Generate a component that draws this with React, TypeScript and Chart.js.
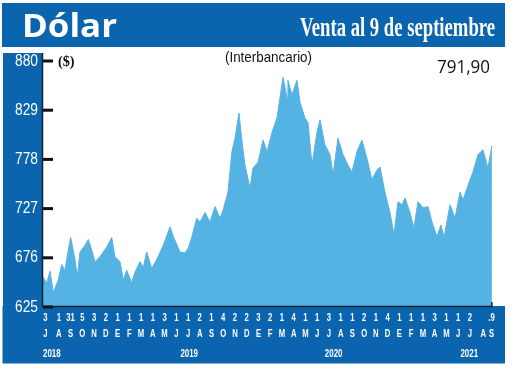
import React, { useEffect, useRef } from "react";
import { Chart, registerables } from "chart.js";

Chart.register(...registerables);

// Position in months since the start of July 2018
const mes = [
  0, 0.32, 0.6, 0.88, 1.3, 1.59, 1.87, 2.15, 2.36, 2.73, 2.92, 3.15, 3.58, 3.86, 4.15, 4.43, 4.85,
  5.42, 5.85, 6.13, 6.56, 6.84, 7.13, 7.55, 7.83, 8.26, 8.54, 8.83, 9.26, 9.68, 10.24, 10.82, 11.1,
  11.67, 12.09, 12.37, 12.66, 13.09, 13.37, 13.8, 14.22, 14.65, 15.07, 15.35, 15.75, 16.09, 16.35,
  16.69, 16.95, 17.2, 17.63, 17.88, 18.31, 18.74, 19.08, 19.5, 19.93, 20.18, 20.44, 20.78, 20.86,
  21.2, 21.63, 21.89, 22.31, 22.57, 22.91, 23.33, 23.59, 24.01, 24.44, 24.7, 25.12, 25.55, 25.97,
  26.31, 26.74, 27.16, 27.59, 28.01, 28.44, 28.7, 29.12, 29.55, 29.89, 30.23, 30.57, 30.83, 31.25,
  31.59, 31.93, 32.36, 32.79, 33.13, 33.55, 33.89, 34.15, 34.66, 35.09, 35.51, 35.77, 36.19, 36.62,
  37.04, 37.47, 37.89, 38.23,
];

// Dólar interbancario ($)
const dolar = [
  656, 650, 662, 640, 653, 669, 663, 684, 697, 674, 656, 682, 689, 695, 684, 672, 677,
  687, 697, 677, 672, 653, 663, 650, 661, 672, 666, 682, 665, 674, 689, 708, 698,
  682, 681, 686, 697, 717, 713, 723, 713, 729, 717, 726, 744, 786, 800,
  826, 796, 772, 748, 769, 775, 798, 786, 806, 821, 842, 863, 842, 860,
  845, 860, 837, 821, 816, 772, 806, 819, 793, 783, 762, 800, 783, 772,
  765, 786, 798, 779, 757, 767, 770, 744, 723, 700, 734, 731, 738, 723,
  707, 734, 728, 729, 713, 698, 710, 697, 731, 717, 744, 736, 751, 765,
  783, 788, 769, 791.9,
];

const yTicks = [625, 676, 727, 778, 829, 880];

const dayLabels = [
  "3", "1", "31", "5", "3", "2",
  "1", "1", "1", "1", "3", "1", "1", "2", "1", "4", "2", "2",
  "3", "2", "1", "4", "1", "1", "3", "1", "1", "2", "1", "4",
  "1", "1", "1", "3", "1", "1", "2", "", ".9",
];

const monthLabels = [
  "J", "A", "S", "O", "N", "D",
  "E", "F", "M", "A", "M", "J", "J", "A", "S", "O", "N", "D",
  "E", "F", "M", "A", "M", "J", "J", "A", "S", "O", "N", "D",
  "E", "F", "M", "A", "M", "J", "J", "A", "S",
];

const labelPos = monthLabels.map((_, i) => (i === 0 ? 0.2 : i === 37 ? 37.5 : i === 38 ? 38.2 : i + 0.35));

const yearLabels = ["2018", "2019", "2020", "2021"];
const yearPos = [0.75, 12.45, 24.75, 36.3];

const BLUE = "#0a64ae";
const AREA = "#55b3e4";

function drawText(
  ctx: CanvasRenderingContext2D,
  text: string,
  x: number,
  y: number,
  font: string,
  color: string,
  align: CanvasTextAlign,
  baseline: CanvasTextBaseline,
  opts: { width?: number; sx?: number }
) {
  if (!text) return;
  ctx.save();
  ctx.font = font;
  ctx.fillStyle = color;
  ctx.textBaseline = baseline;
  ctx.textAlign = align;
  const w = ctx.measureText(text).width;
  const sx = opts.width ? opts.width / w : opts.sx ?? 1;
  ctx.translate(x, y);
  ctx.scale(sx, 1);
  ctx.fillText(text, 0, 0);
  ctx.restore();
}

const decorPlugin = {
  id: "decor",
  beforeDraw(chart: any) {
    const ctx: CanvasRenderingContext2D = chart.ctx;
    ctx.save();
    ctx.fillStyle = "#ffffff";
    ctx.fillRect(0, 0, chart.width, chart.height);
    ctx.fillStyle = BLUE;
    ctx.fillRect(2, 3, 503, 44);
    ctx.fillRect(3, 53, 40, 256);
    ctx.fillRect(2.5, 306, 502.5, 57.5);
    ctx.restore();
  },
  afterDatasetsDraw(chart: any) {
    const ctx: CanvasRenderingContext2D = chart.ctx;
    const xs = chart.scales.x;
    const ys = chart.scales.y;
    const area = chart.chartArea;
    const xEnd = xs.getPixelForValue(mes[mes.length - 1]);

    ctx.save();
    // axis lines
    ctx.strokeStyle = "#14202e";
    ctx.lineWidth = 1.5;
    ctx.beginPath();
    ctx.moveTo(area.left - 0.5, 53);
    ctx.lineTo(area.left - 0.5, area.bottom);
    ctx.moveTo(area.left, area.bottom - 0.5);
    ctx.lineTo(xEnd, area.bottom - 0.5);
    ctx.moveTo(xEnd, area.bottom - 5);
    ctx.lineTo(xEnd, area.bottom);
    ctx.stroke();

    // y tick marks and labels
    ctx.fillStyle = "#111111";
    yTicks.forEach((v) => {
      const y = ys.getPixelForValue(v);
      ctx.fillRect(area.left, y - 1.5, 10, 3);
    });
    ctx.restore();

    yTicks.forEach((v) => {
      const y = ys.getPixelForValue(v);
      drawText(ctx, String(v), area.left - 5, y, "17px 'Liberation Sans', Arial, sans-serif", "#ffffff", "right", "middle", { sx: 0.81 });
    });

    // x labels
    dayLabels.forEach((t, i) => {
      const x = xs.getPixelForValue(labelPos[i]);
      drawText(ctx, t, x, 317.5, "bold 11px 'Liberation Sans', Arial, sans-serif", "#ffffff", "center", "middle", { sx: 0.7 });
    });
    monthLabels.forEach((t, i) => {
      const x = xs.getPixelForValue(labelPos[i]);
      drawText(ctx, t, x, 333.5, "bold 11px 'Liberation Sans', Arial, sans-serif", "#ffffff", "center", "middle", { sx: 0.7 });
    });
    yearLabels.forEach((t, i) => {
      const x = xs.getPixelForValue(yearPos[i]);
      drawText(ctx, t, x, 353.5, "bold 11px 'Liberation Sans', Arial, sans-serif", "#ffffff", "center", "middle", { sx: 0.72 });
    });

    // texts in plot
    drawText(ctx, "($)", 58, 62.5, "bold 15px 'Liberation Serif', serif", "#111111", "left", "middle", { width: 16.5 });
    drawText(ctx, "(Interbancario)", 225, 57.5, "15px 'Liberation Sans', Arial, sans-serif", "#111111", "left", "middle", { width: 87 });
    drawText(ctx, "791,90", 437, 73, "19px 'Open Sans', 'Liberation Sans', sans-serif", "#111111", "left", "alphabetic", { width: 53 });

    // header
    drawText(ctx, "Dólar", 22, 37, "bold 32px 'Open Sans', 'Liberation Sans', sans-serif", "#ffffff", "left", "alphabetic", { width: 95 });
    drawText(ctx, "Venta al 9 de septiembre", 300, 36, "bold 28px 'Liberation Serif', serif", "#ffffff", "left", "alphabetic", { width: 195 });
  },
};

export default function App() {
  const ref = useRef<HTMLCanvasElement | null>(null);

  useEffect(() => {
    document.body.style.margin = "0";
    const canvas = ref.current;
    if (!canvas) return;
    const chart = new Chart(canvas, {
      type: "line",
      data: {
        datasets: [
          {
            data: mes.map((m, i) => ({ x: m, y: dolar[i] })),
            fill: "start",
            backgroundColor: AREA,
            borderColor: AREA,
            borderWidth: 1,
            pointRadius: 0,
            tension: 0,
          },
        ],
      },
      options: {
        animation: false,
        responsive: false,
        devicePixelRatio: 1,
        layout: { padding: { left: 43, top: 61, right: 25.5, bottom: 60 } },
        plugins: { legend: { display: false }, tooltip: { enabled: false } },
        scales: {
          x: { type: "linear", min: 0, max: 38.45, display: false },
          y: { min: 625, max: 880, display: false },
        },
      },
      plugins: [decorPlugin],
    });
    return () => chart.destroy();
  }, []);

  return <canvas ref={ref} width={520} height={367} style={{ display: "block" }} />;
}
